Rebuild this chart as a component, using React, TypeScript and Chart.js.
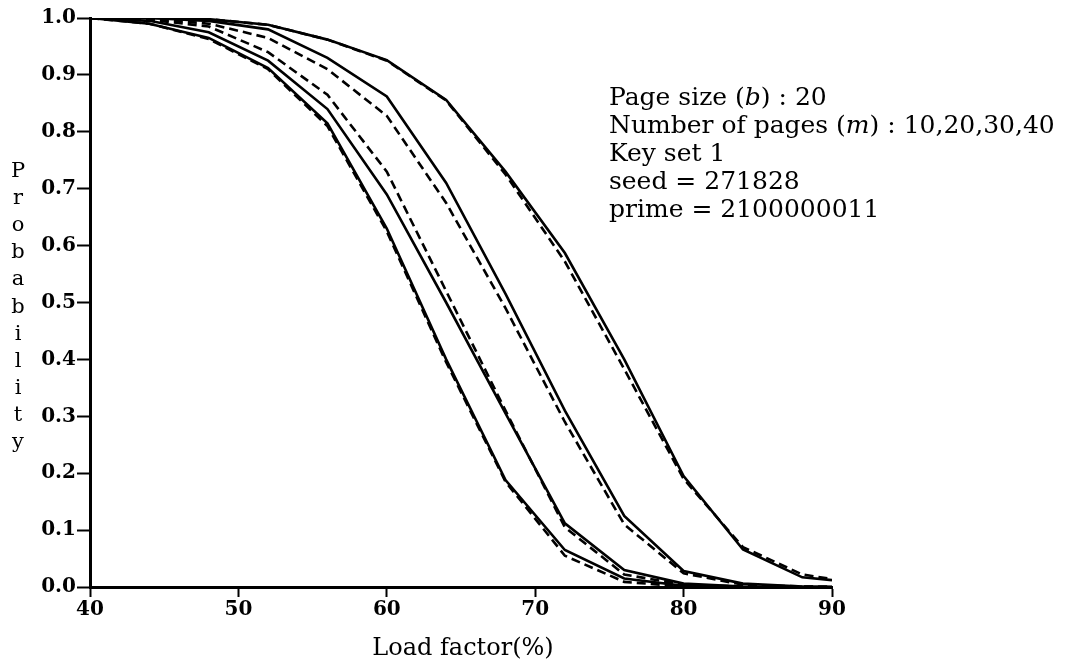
import React, { useEffect, useRef } from "react";
import { Chart, registerables } from "chart.js";

Chart.register(...registerables);

// Load factor (%) at which the curves were sampled
const loadFactor = [40, 44, 48, 52, 56, 60, 64, 68, 72, 76, 80, 84, 88, 90];

// m = 10 pages
const m10Observed = [1.0, 1.0, 0.998, 0.988, 0.962, 0.926, 0.856, 0.73, 0.587, 0.4, 0.195, 0.066, 0.017, 0.012];
const m10Analysis = [1.0, 1.0, 0.998, 0.988, 0.962, 0.925, 0.855, 0.725, 0.572, 0.383, 0.19, 0.07, 0.022, 0.014];
// m = 20 pages
const m20Observed = [1.0, 1.0, 0.995, 0.98, 0.93, 0.862, 0.71, 0.515, 0.31, 0.125, 0.028, 0.006, 0.001, 0.0];
const m20Analysis = [1.0, 0.999, 0.99, 0.965, 0.91, 0.828, 0.675, 0.49, 0.29, 0.11, 0.024, 0.004, 0.001, 0.0];
// m = 30 pages
const m30Observed = [1.0, 0.995, 0.975, 0.925, 0.84, 0.69, 0.5, 0.305, 0.112, 0.03, 0.006, 0.001, 0.0, 0.0];
const m30Analysis = [1.0, 0.997, 0.985, 0.94, 0.865, 0.73, 0.52, 0.31, 0.105, 0.022, 0.004, 0.001, 0.0, 0.0];
// m = 40 pages
const m40Observed = [1.0, 0.99, 0.965, 0.912, 0.815, 0.63, 0.4, 0.188, 0.065, 0.015, 0.002, 0.0, 0.0, 0.0];
const m40Analysis = [1.0, 0.99, 0.963, 0.91, 0.81, 0.625, 0.395, 0.185, 0.055, 0.009, 0.001, 0.0, 0.0, 0.0];

const seriesList = [
  { name: "m=10 observed", values: m10Observed, dashed: false },
  { name: "m=10 analysis", values: m10Analysis, dashed: true },
  { name: "m=20 observed", values: m20Observed, dashed: false },
  { name: "m=20 analysis", values: m20Analysis, dashed: true },
  { name: "m=30 observed", values: m30Observed, dashed: false },
  { name: "m=30 analysis", values: m30Analysis, dashed: true },
  { name: "m=40 observed", values: m40Observed, dashed: false },
  { name: "m=40 analysis", values: m40Analysis, dashed: true },
];

const xTitle = "Load factor(%)";
const yTitle = "Probability";
const annotationLines: Array<Array<[string, boolean]>> = [
  [["Page size (", false], ["b", true], [") : 20", false]],
  [["Number of pages (", false], ["m", true], [") : 10,20,30,40", false]],
  [["Key set 1", false]],
  [["seed = 271828", false]],
  [["prime = 2100000011", false]],
];

const FAMILY = '"DejaVu Serif", serif';

const textPlugin = {
  id: "texts",
  afterDraw(chart: any) {
    const ctx = chart.ctx;
    ctx.save();
    ctx.fillStyle = "#000";
    ctx.textBaseline = "alphabetic";
    ctx.textAlign = "left";
    annotationLines.forEach((segs, i) => {
      let x = 609;
      const y = 105 + 28 * i;
      segs.forEach(([t, it]) => {
        ctx.font = `${it ? "italic " : ""}25px ${FAMILY}`;
        ctx.fillText(t, x, y);
        x += ctx.measureText(t).width;
      });
    });
    ctx.textAlign = "center";
    ctx.font = `24px ${FAMILY}`;
    ctx.fillText(xTitle, 463, 655);
    ctx.font = `21px ${FAMILY}`;
    yTitle.split("").forEach((ch, i) => {
      ctx.fillText(ch, 18, 177 + 27.1 * i);
    });
    ctx.restore();
  },
};

export default function App() {
  const canvasRef = useRef<HTMLCanvasElement | null>(null);

  useEffect(() => {
    if (!canvasRef.current) return;
    const chart = new Chart(canvasRef.current, {
      type: "line",
      data: {
        datasets: seriesList.map((s) => ({
          label: s.name,
          data: loadFactor.map((x, i) => ({ x, y: s.values[i] })),
          borderColor: "#000",
          borderWidth: 2.6,
          borderDash: s.dashed ? [9, 5] : [],
          pointRadius: 0,
          tension: 0,
          fill: false,
        })),
      },
      options: {
        animation: false,
        responsive: true,
        maintainAspectRatio: false,
        layout: { padding: { top: 18, right: 243, left: 0, bottom: 0 } },
        plugins: {
          legend: { display: false },
          tooltip: { enabled: false },
        },
        scales: {
          x: {
            type: "linear",
            min: 40,
            max: 90,
            afterFit: (s: any) => {
              s.height = 79;
            },
            ticks: {
              stepSize: 10,
              color: "#000",
              padding: 1,
              font: { family: FAMILY, size: 20, weight: "bold" },
              maxRotation: 0,
            },
            grid: {
              drawOnChartArea: false,
              drawTicks: true,
              tickLength: 10,
              tickColor: "#000",
              tickWidth: 2,
              color: "#000",
            },
            border: { display: true, color: "#000", width: 3 },
          },
          y: {
            type: "linear",
            min: 0,
            max: 1,
            afterFit: (s: any) => {
              s.width = 90;
            },
            ticks: {
              stepSize: 0.1,
              color: "#000",
              padding: 1,
              font: { family: FAMILY, size: 20, weight: "bold" },
              callback: (v: any) => Number(v).toFixed(1),
            },
            grid: {
              drawOnChartArea: false,
              drawTicks: true,
              tickLength: 13,
              tickColor: "#000",
              tickWidth: 2,
              color: "#000",
            },
            border: { display: true, color: "#000", width: 3 },
          },
        },
      },
      plugins: [textPlugin],
    });
    return () => chart.destroy();
  }, []);

  return (
    <div style={{ position: "absolute", left: 0, top: 0, width: 1075, height: 666, background: "#fff" }}>
      <canvas ref={canvasRef} />
    </div>
  );
}
